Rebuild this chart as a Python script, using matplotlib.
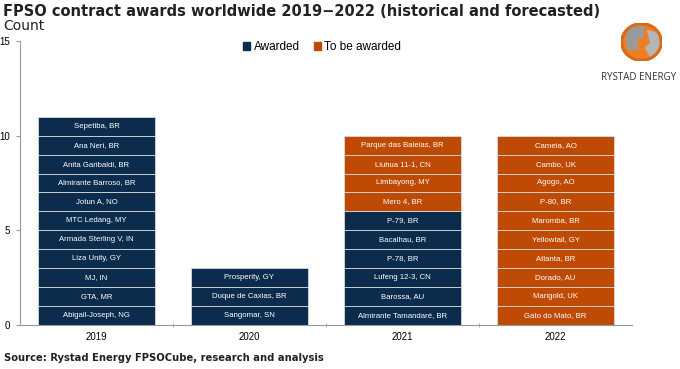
#!/usr/bin/env python
"""
FPSO contract awards worldwide 2019-2022, stacked unit bars with project names.
"""

import matplotlib.pyplot as plt
from matplotlib.patches import Patch, Wedge, Ellipse, Polygon

# ---------------------- DATA ------------------------------
YEARS = ["2019", "2020", "2021", "2022"]

# projects listed bottom -> top
AWARDED = {
    "2019": ["Abigail-Joseph, NG", "GTA, MR", "MJ, IN", "Liza Unity, GY",
             "Armada Sterling V, IN", "MTC Ledang, MY", "Jotun A, NO",
             "Almirante Barroso, BR", "Anita Garibaldi, BR", "Ana Neri, BR",
             "Sepetiba, BR"],
    "2020": ["Sangomar, SN", "Duque de Caxias, BR", "Prosperity, GY"],
    "2021": ["Almirante Tamandaré, BR", "Barossa, AU", "Lufeng 12-3, CN",
             "P-78, BR", "Bacalhau, BR", "P-79, BR"],
    "2022": [],
}
TO_BE_AWARDED = {
    "2019": [],
    "2020": [],
    "2021": ["Mero 4, BR", "Limbayong, MY", "Liuhua 11-1, CN",
             "Parque das Baleias, BR"],
    "2022": ["Gato do Mato, BR", "Marigold, UK", "Dorado, AU", "Atlanta, BR",
             "Yellowtail, GY", "Maromba, BR", "P-80, BR", "Agogo, AO",
             "Cambo, UK", "Cameia, AO"],
}

NAVY = "#0b2c4d"
ORANGE = "#bf4a04"
BAR_WIDTH = 0.765

# -----------------------------------------------------------

fig = plt.figure(figsize=(6.8, 3.69), dpi=100)
ax = fig.add_axes([20 / 680, 44 / 369, 612 / 680, 284 / 369])

for i, year in enumerate(YEARS):
    stack = [(p, NAVY) for p in AWARDED[year]] + [(p, ORANGE) for p in TO_BE_AWARDED[year]]
    for k, (name, color) in enumerate(stack):
        ax.bar(i, 1, bottom=k, width=BAR_WIDTH, color=color,
               edgecolor="#d9d9d9", linewidth=0.6)
        ax.text(i, k + 0.5, name, ha="center", va="center", color="white",
                fontsize=5.6, family="Liberation Sans")

ax.set_xlim(-0.5, len(YEARS) - 0.5)
ax.set_ylim(0, 15)
ax.set_yticks([0, 5, 10, 15])
ax.set_xticks(range(len(YEARS)))
ax.set_xticklabels(YEARS)
ax.set_xticks([0.5, 1.5, 2.5], minor=True)
ax.tick_params(axis="x", which="major", length=0, pad=5, labelsize=7)
ax.tick_params(axis="x", which="minor", length=3, direction="inout", color="#999999")
ax.tick_params(axis="y", length=3, color="#999999", labelsize=7, pad=4)
for lab in ax.get_xticklabels() + ax.get_yticklabels():
    lab.set_family("Liberation Sans")

for s in ["top", "right"]:
    ax.spines[s].set_visible(False)
ax.spines["left"].set_color("#999999")
ax.spines["bottom"].set_color("#999999")
ax.spines["left"].set_linewidth(0.8)
ax.spines["bottom"].set_linewidth(0.8)

handles = [Patch(color=NAVY, label="Awarded"), Patch(color=ORANGE, label="To be awarded")]
fig.legend(handles=handles, loc="center", bbox_to_anchor=(322 / 680, 1 - 47 / 369),
           ncol=2, frameon=False, handlelength=0.6, handleheight=0.6,
           handletextpad=0.3, columnspacing=1.2,
           prop={"family": "Liberation Sans", "size": 8.5})

fig.text(3 / 680, 1 - 11 / 369, "FPSO contract awards worldwide 2019\u22122022 (historical and forecasted)",
         fontsize=10.5, fontweight="bold", color="#222222", va="center", ha="left")
fig.text(3 / 680, 1 - 26 / 369, "Count", fontsize=10, color="#222222", va="center", ha="left")
fig.text(4 / 680, 1 - 358 / 369, "Source: Rystad Energy FPSOCube, research and analysis",
         fontsize=7.2, fontweight="bold", color="#222222", va="center", ha="left")

# rough logo
lax = fig.add_axes([621 / 680, 1 - 61 / 369, 41 / 680, 38 / 369])
lax.set_xlim(-1, 1)
lax.set_ylim(-1, 1)
lax.axis("off")
lax.add_patch(Ellipse((0, 0), 2, 2, color="#ef7d22"))
lax.add_patch(Polygon([(-0.55, 0.75), (0.1, 0.8), (0.1, 0.25), (-0.2, 0.2), (-0.2, -0.4),
                       (-0.65, -0.4), (-0.75, 0.2)], color="#9a9a9a"))
lax.add_patch(Polygon([(0.3, 0.6), (0.8, 0.45), (0.9, -0.3), (0.45, -0.8), (0.2, -0.3),
                       (0.45, -0.05)], color="#b5b5b5"))
lax.add_patch(Wedge((0, 0), 1, 0, 360, width=0.08, color="#d86a1a"))
fig.text(639 / 680, 1 - 77 / 369, "RYSTAD ENERGY", fontsize=7, color="#333333",
         ha="center", va="center", family="Open Sans")

fig.savefig("out.png", dpi=100)
